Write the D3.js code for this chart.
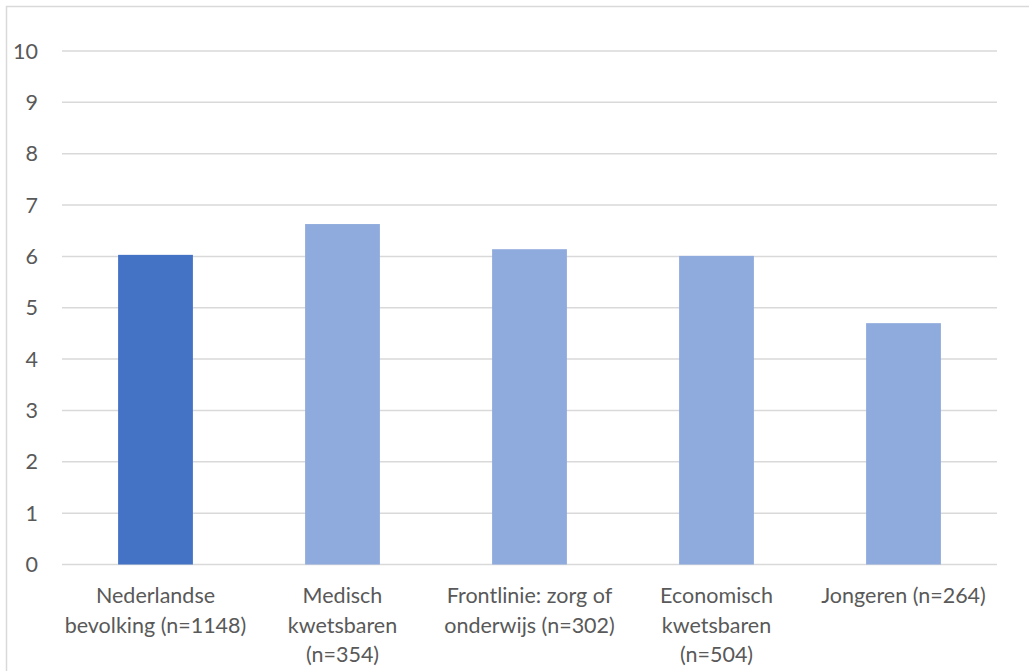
<!DOCTYPE html>
<html>
<head>
<meta charset="utf-8">
<script src="https://cdn.jsdelivr.net/npm/d3@7"></script>
<style>
  html, body { margin: 0; padding: 0; background: #fff; }
  svg { display: block; }
</style>
</head>
<body>
<div id="chart"></div>
<script>
// categories, split into the lines shown under the axis
const categories = [
  ['Nederlandse', 'bevolking (n=1148)'],
  ['Medisch', 'kwetsbaren', '(n=354)'],
  ['Frontlinie: zorg of', 'onderwijs (n=302)'],
  ['Economisch', 'kwetsbaren', '(n=504)'],
  ['Jongeren (n=264)']
];
const values = [6.03, 6.63, 6.14, 6.01, 4.70];
const barColors = ['#4472C4', '#8FAADC', '#8FAADC', '#8FAADC', '#8FAADC'];
const yTicks = [0, 1, 2, 3, 4, 5, 6, 7, 8, 9, 10];

const width = 1029,
      height = 671,
      margin = {top: 51, right: 32, bottom: 107, left: 62},
      fontSize = '21.5px';

const svg = d3.select('#chart')
  .append('svg')
  .attr('width', width)
  .attr('height', height)
  .style('font-family', 'Lato, "Open Sans", sans-serif');

// outer chart border
svg.append('rect')
  .attr('x', 6.5)
  .attr('y', 6.5)
  .attr('width', width + 10)
  .attr('height', height + 10)
  .attr('fill', 'none')
  .attr('stroke', '#D9D9D9')
  .attr('stroke-width', 1.5);

const x = d3.scaleBand()
  .domain(d3.range(categories.length))
  .range([margin.left, width - margin.right])
  .paddingInner(0.6)
  .paddingOuter(0.3);

const y = d3.scaleLinear()
  .domain([0, 10])
  .range([height - margin.bottom + 0.5, margin.top]);

// gridlines
svg.append('g')
  .selectAll('line')
  .data(yTicks)
  .enter()
  .append('line')
  .attr('x1', margin.left)
  .attr('x2', width - margin.right)
  .attr('y1', d => y(d))
  .attr('y2', d => y(d))
  .attr('stroke', '#D9D9D9')
  .attr('stroke-width', 1.5);

// y tick labels
svg.append('g')
  .selectAll('text')
  .data(yTicks)
  .enter()
  .append('text')
  .attr('x', 38)
  .attr('y', d => y(d))
  .attr('dy', '0.35em')
  .attr('text-anchor', 'end')
  .attr('fill', '#595959')
  .style('font-size', fontSize)
  .text(d => d);

// bars
svg.append('g')
  .selectAll('rect')
  .data(values)
  .enter()
  .append('rect')
  .attr('x', (d, i) => x(i))
  .attr('width', x.bandwidth())
  .attr('y', d => y(d))
  .attr('height', d => y(0) - y(d))
  .attr('fill', (d, i) => barColors[i]);

// category labels
const labels = svg.append('g')
  .selectAll('text')
  .data(categories)
  .enter()
  .append('text')
  .attr('text-anchor', 'middle')
  .attr('fill', '#595959')
  .style('font-size', fontSize);

labels.each(function(lines, i) {
  d3.select(this)
    .selectAll('tspan')
    .data(lines)
    .enter()
    .append('tspan')
    .attr('x', x(i) + x.bandwidth() / 2)
    .attr('y', (d, j) => 603 + j * 29.5)
    .text(d => d);
});
</script>
</body>
</html>
